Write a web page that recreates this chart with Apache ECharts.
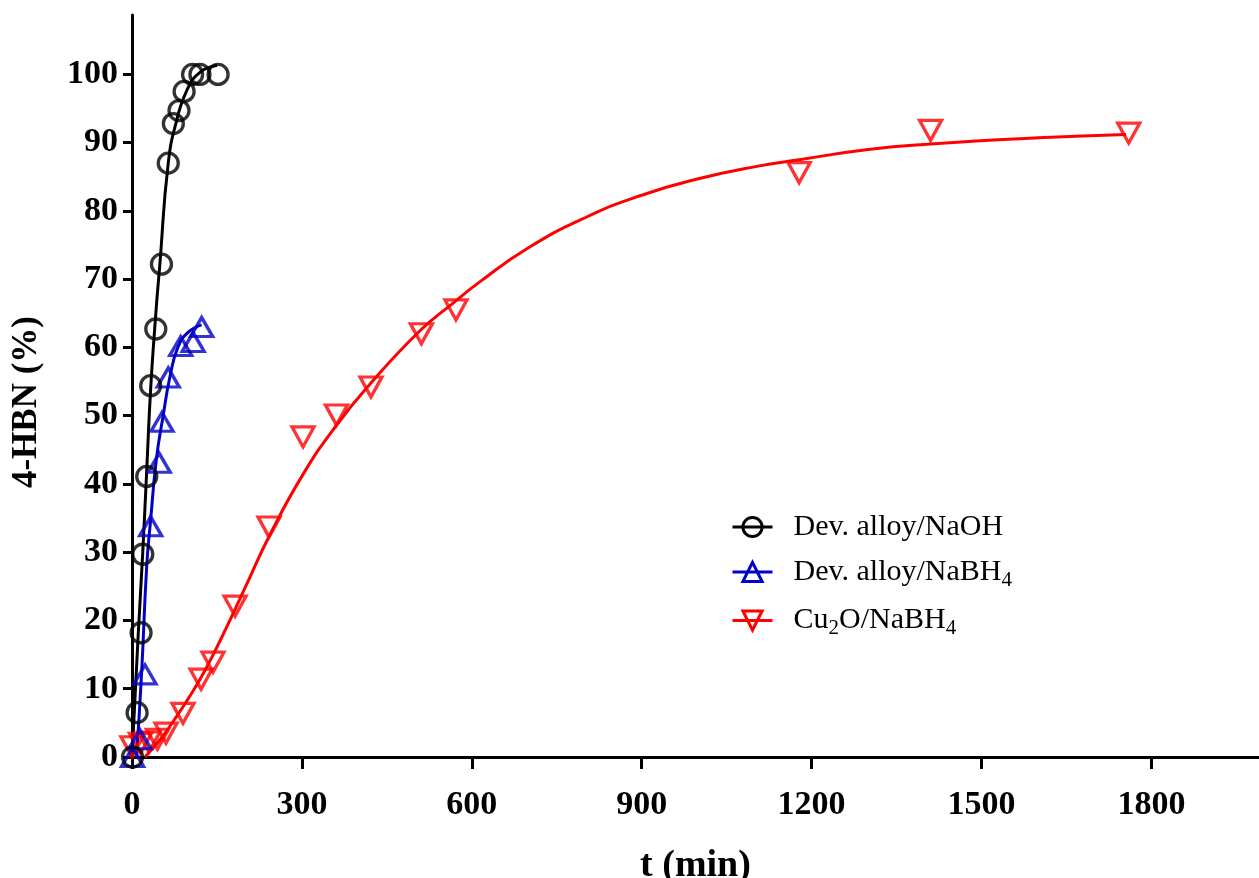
<!DOCTYPE html>
<html><head><meta charset="utf-8">
<script src="https://cdn.jsdelivr.net/npm/echarts@6/dist/echarts.min.js"></script>
<style>html,body{margin:0;padding:0;background:#fff}#c{width:1259px;height:878px}</style>
</head><body><div id="c"></div>
<script>
// Measured points (time in min, 4-HBN %)
const naohT = [1, 9, 16, 19, 26, 33, 42, 52, 64, 73, 83, 92, 107, 120, 152];
const naohY = [0, 6.5, 18.2, 29.7, 41.1, 54.4, 62.7, 72.2, 87, 92.8, 94.7, 97.5, 100, 100, 100];
const nabhT = [1, 14, 23, 33, 48, 53, 64, 86, 108, 123];
const nabhY = [0, 2.6, 12.1, 33.8, 43.1, 49.1, 55.6, 60.2, 60.8, 63];
const cuT = [0, 15, 30, 45, 60, 90, 122, 143, 182, 242, 302, 361, 422, 511, 572, 1178, 1410, 1760];
const cuY = [1.5, 2, 2.2, 2.6, 3.5, 6.4, 11.4, 13.9, 22.1, 33.7, 46.9, 50.1, 54.2, 62.0, 65.5, 85.6, 91.8, 91.4];
// Fitted curves
const naohFitT = [0, 11, 19, 26, 33, 43, 49, 64, 79, 97, 120, 150];
const naohFitY = [0, 18, 30, 42, 54, 66, 72, 87, 93.3, 97.7, 100.3, 101.3];
const nabhFitT = [8, 17, 26, 33, 43, 55, 67, 81, 99, 123];
const nabhFitY = [0, 12.4, 28, 34.8, 43.6, 50, 55.7, 60, 62.2, 63.3];
const cuFitT = [23, 50, 76, 105, 129, 160, 203, 242, 302, 361, 420, 508, 567, 614, 700, 800, 900, 1000, 1108, 1178, 1300, 1410, 1600, 1755];
const cuFitY = [0, 2.6, 5.6, 9.3, 12.7, 17.8, 25.4, 32.3, 41.4, 48.6, 54.6, 62.4, 66.5, 69.6, 74.6, 79.0, 82.3, 84.7, 86.6, 87.5, 89.0, 89.8, 90.7, 91.2];
const seriesNames = ['Dev. alloy/NaOH', 'Dev. alloy/NaBH4', 'Cu2O/NaBH4'];
const legendRich = {
  'Dev. alloy/NaOH': '{n|Dev. alloy/NaOH}',
  'Dev. alloy/NaBH4': '{n|Dev. alloy/NaBH}{s|4}',
  'Cu2O/NaBH4': '{n|Cu}{s|2}{n|O/NaBH}{s|4}'
};
const xTicks = [0, 300, 600, 900, 1200, 1500, 1800];
const yTicks = [0, 10, 20, 30, 40, 50, 60, 70, 80, 90, 100];

const zip = (a, b) => a.map((v, i) => [v, b[i]]);
const BLACK = '#000000', BLUE = '#0000c8', RED = '#ff0000';
const serif = 'Liberation Serif';

const chart = echarts.init(document.getElementById('c'), null, {renderer: 'canvas'});
function fit(name, t, y, color, symbol, rot) {
  return {
    name, type: 'line', data: zip(t, y), smooth: 0.5, showSymbol: false,
    symbol, symbolRotate: rot, symbolSize: 18,
    lineStyle: {color, width: 3},
    itemStyle: {color: 'rgba(0,0,0,0)', borderColor: color, borderWidth: 3},
    silent: true, z: 2, clip: true
  };
}
function pts(name, t, y, color, symbol, size, rot) {
  return {
    name, type: 'scatter', data: zip(t, y), symbol, symbolSize: size, symbolRotate: rot,
    itemStyle: {color: 'rgba(0,0,0,0)', borderColor: color, borderWidth: 3.3},
    silent: true, z: 3, clip: false
  };
}
chart.setOption({
  animation: false,
  backgroundColor: '#fff',
  grid: {left: 132, right: 0, top: 15, bottom: 121, containLabel: false, outerBoundsMode: 'none'},
  xAxis: {
    type: 'value', min: 0, max: 1990, interval: 300,
    name: 't (min)', nameLocation: 'middle', nameGap: 90,
    nameTextStyle: {fontFamily: serif, fontWeight: 'bold', fontSize: 38, color: '#000'},
    axisLine: {lineStyle: {color: '#000', width: 3}},
    axisTick: {show: true, length: 12, customValues: xTicks, lineStyle: {color: '#000', width: 3}},
    axisLabel: {fontFamily: serif, fontWeight: 'bold', fontSize: 34, color: '#000', margin: 31,
      customValues: xTicks, formatter: v => String(v)},
    splitLine: {show: false}
  },
  yAxis: {
    type: 'value', min: 0, max: 108.7, interval: 10,
    name: '4-HBN (%)', nameLocation: 'middle', nameGap: 88, nameRotate: 90,
    nameTextStyle: {fontFamily: serif, fontWeight: 'bold', fontSize: 35, color: '#000', padding: [0, 32, 0, 0]},
    axisLine: {show: true, lineStyle: {color: '#000', width: 3}},
    axisTick: {show: true, length: 9, customValues: yTicks, lineStyle: {color: '#000', width: 3}},
    axisLabel: {fontFamily: serif, fontWeight: 'bold', fontSize: 34, color: '#000', margin: 14,
      customValues: yTicks, formatter: v => String(v)},
    splitLine: {show: false}
  },
  legend: {
    data: seriesNames, orient: 'vertical', left: 731, top: 512, padding: 0,
    itemWidth: 40, itemHeight: 24, itemGap: 15,
    lineStyle: {width: 3},
    itemStyle: {borderWidth: 3},
    formatter: n => legendRich[n],
    textStyle: {
      fontFamily: serif, fontSize: 30, color: '#000', padding: [0, 0, 0, 16],
      rich: {
        n: {fontFamily: serif, fontSize: 30, color: '#000'},
        s: {fontFamily: serif, fontSize: 21, color: '#000', padding: [16, 0, 0, 0]}
      }
    }
  },
  series: [
    fit(seriesNames[2], cuFitT, cuFitY, RED, 'triangle', 180),
    fit(seriesNames[1], nabhFitT, nabhFitY, BLUE, 'triangle', 0),
    fit(seriesNames[0], naohFitT, naohFitY, BLACK, 'circle', 0),
    pts('cuPts', cuT, cuY, RED, 'triangle', [22, 20], 180),
    pts('nabhPts', nabhT, nabhY, BLUE, 'triangle', [22, 19], 0),
    pts('naohPts', naohT, naohY, BLACK, 'circle', 20, 0)
  ]
});
</script></body></html>
